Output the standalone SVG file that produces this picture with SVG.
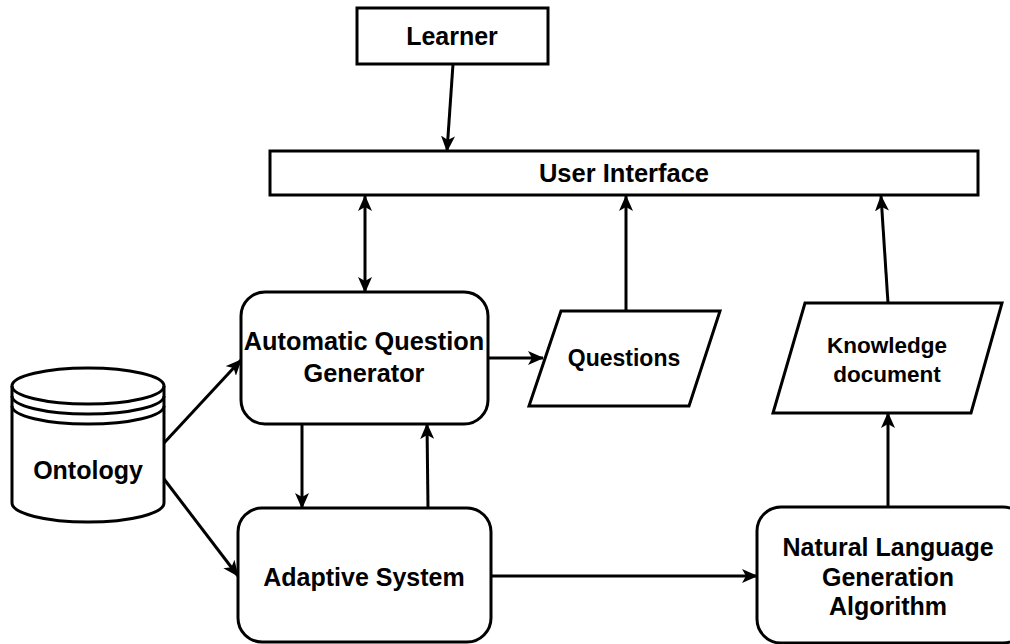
<svg xmlns="http://www.w3.org/2000/svg" width="1010" height="644" viewBox="0 0 1010 644">
  <style>
    .box { fill: #ffffff; stroke: #000000; stroke-width: 3; }
    .lbl { font-family: "Liberation Sans", Arial, Helvetica, sans-serif; font-weight: bold; fill: #000000; text-anchor: middle; }
    .edge { fill: none; stroke: #000000; stroke-width: 3; }
  </style>
  <defs>
    <marker id="arrow" viewBox="0 0 16 14" refX="15" refY="7" markerWidth="16" markerHeight="14" markerUnits="userSpaceOnUse" orient="auto-start-reverse">
      <path d="M0,0 L16,7 L0,14 L4,7 Z" fill="#000000"/>
    </marker>
  </defs>

  <g id="connectors">
    <line class="edge" x1="453" y1="64" x2="447" y2="151" marker-end="url(#arrow)"/>
    <line class="edge" x1="365" y1="196" x2="365" y2="292" marker-start="url(#arrow)" marker-end="url(#arrow)"/>
    <line class="edge" x1="626" y1="311" x2="626" y2="196" marker-end="url(#arrow)"/>
    <line class="edge" x1="888" y1="303" x2="881" y2="196" marker-end="url(#arrow)"/>
    <line class="edge" x1="488" y1="358" x2="543" y2="358" marker-end="url(#arrow)"/>
    <line class="edge" x1="888" y1="507" x2="888" y2="413" marker-end="url(#arrow)"/>
    <line class="edge" x1="302" y1="424" x2="302" y2="508" marker-end="url(#arrow)"/>
    <line class="edge" x1="428" y1="508" x2="427" y2="424" marker-end="url(#arrow)"/>
    <line class="edge" x1="491" y1="576" x2="757" y2="576" marker-end="url(#arrow)"/>
    <line class="edge" x1="164" y1="443" x2="241" y2="360" marker-end="url(#arrow)"/>
    <line class="edge" x1="164" y1="479" x2="238" y2="576" marker-end="url(#arrow)"/>
  </g>

  <g id="learner">
    <rect class="box" x="357" y="8" width="191" height="56"/>
    <text class="lbl" x="452" y="45" font-size="25">Learner</text>
  </g>

  <g id="user-interface">
    <rect class="box" x="270" y="151" width="708" height="44"/>
    <text class="lbl" x="624" y="182" font-size="25.5">User Interface</text>
  </g>

  <g id="question-generator">
    <rect class="box" x="241" y="292" width="247" height="132" rx="24" ry="24"/>
    <text class="lbl" x="364" y="350" font-size="25.3">Automatic Question</text>
    <text class="lbl" x="364" y="382" font-size="25.3">Generator</text>
  </g>

  <g id="questions">
    <polygon class="box" points="561,311 720,311 689,406 529,406"/>
    <text class="lbl" x="624" y="366" font-size="23">Questions</text>
  </g>

  <g id="knowledge-document">
    <polygon class="box" points="805,303 1002,303 971,413 773,413"/>
    <text class="lbl" x="887" y="353" font-size="22.5">Knowledge</text>
    <text class="lbl" x="887" y="382" font-size="22.5">document</text>
  </g>

  <g id="ontology">
    <path class="box" d="M12,386 A76,18 0 0 1 164,386 L164,503 A76,19 0 0 1 12,503 Z"/>
    <path class="edge" d="M12,386 A76,18 0 0 0 164,386"/>
    <path class="edge" d="M12,396 A76,18 0 0 0 164,396"/>
    <path class="edge" d="M12,406 A76,18 0 0 0 164,406"/>
    <text class="lbl" x="88" y="479" font-size="25">Ontology</text>
  </g>

  <g id="adaptive-system">
    <rect class="box" x="238" y="508" width="253" height="134" rx="24" ry="24"/>
    <text class="lbl" x="364" y="586" font-size="25">Adaptive System</text>
  </g>

  <g id="nlg-algorithm">
    <rect class="box" x="757" y="507" width="270" height="136" rx="24" ry="24"/>
    <text class="lbl" x="888" y="556" font-size="25">Natural Language</text>
    <text class="lbl" x="888" y="586" font-size="25">Generation</text>
    <text class="lbl" x="888" y="615" font-size="25">Algorithm</text>
  </g>
</svg>
